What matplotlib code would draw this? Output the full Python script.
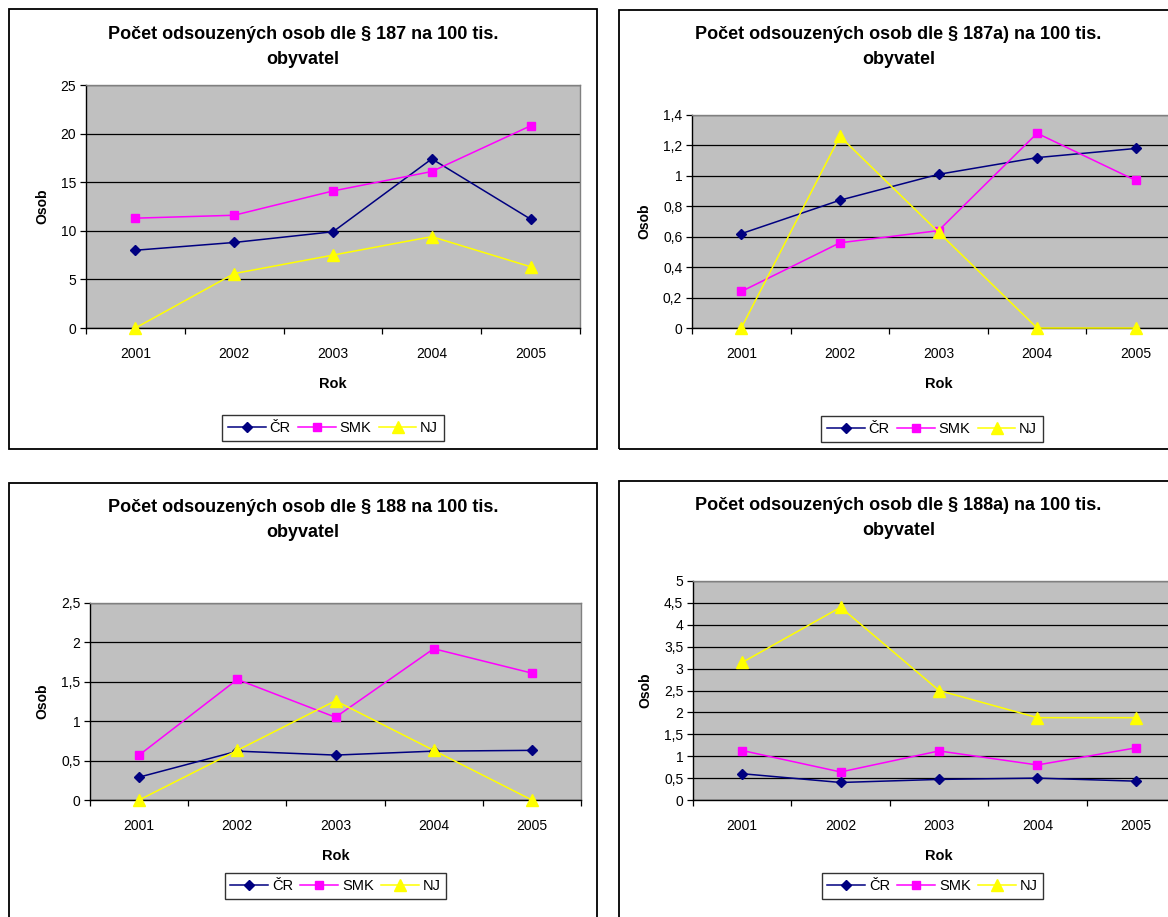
import numpy as np
import matplotlib
matplotlib.use("Agg")
import matplotlib.pyplot as plt
from matplotlib.patches import Rectangle
from matplotlib.ticker import FuncFormatter, FixedLocator

plt.rcParams['font.family'] = ['Liberation Sans', 'DejaVu Sans']

years = ['2001', '2002', '2003', '2004', '2005']
series_names = ['ČR', 'SMK', 'NJ']

# § 187
cr_187 = [8.0, 8.8, 9.9, 17.4, 11.2]
smk_187 = [11.3, 11.6, 14.1, 16.1, 20.8]
nj_187 = [0.0, 5.6, 7.5, 9.4, 6.3]

# § 187a)
cr_187a = [0.62, 0.84, 1.01, 1.12, 1.18]
smk_187a = [0.24, 0.56, 0.64, 1.28, 0.97]
nj_187a = [0.0, 1.26, 0.63, 0.0, 0.0]

# § 188
cr_188 = [0.29, 0.62, 0.57, 0.62, 0.63]
smk_188 = [0.57, 1.53, 1.05, 1.92, 1.61]
nj_188 = [0.0, 0.63, 1.26, 0.63, 0.0]

# § 188a)
cr_188a = [0.60, 0.40, 0.47, 0.50, 0.43]
smk_188a = [1.13, 0.64, 1.12, 0.80, 1.19]
nj_188a = [3.14, 4.40, 2.50, 1.88, 1.88]

titles = ['Počet odsouzených osob dle § 187 na 100 tis.\nobyvatel',
          'Počet odsouzených osob dle § 187a) na 100 tis.\nobyvatel',
          'Počet odsouzených osob dle § 188 na 100 tis.\nobyvatel',
          'Počet odsouzených osob dle § 188a) na 100 tis.\nobyvatel']

W, H = 1168, 917
fig = plt.figure(figsize=(W / 100, H / 100), dpi=100)
fig.patch.set_facecolor('white')


def fx(x):
    return x / W


def fy(y):
    return 1 - y / H


def comma(v, pos):
    s = ('%.1f' % v).rstrip('0').rstrip('.')
    return s.replace('.', ',')


styles = [dict(color='#000080', marker='D', ms=5.5),
          dict(color='#FF00FF', marker='s', ms=6),
          dict(color='#FFFF00', marker='^', ms=8)]

# border box, plot box (x0, x1, y0, y1) in px, title y, legend y, y ticks
panels = [
    dict(box=(9, 597, 9, 449), plot=(86, 580, 85, 328), ty=47, ly=428,
         ticks=np.arange(0, 26, 5), data=[cr_187, smk_187, nj_187]),
    dict(box=(619, 1190, 10, 449), plot=(692, 1185, 115, 328), ty=47, ly=429,
         ticks=np.arange(0, 1.41, 0.2), data=[cr_187a, smk_187a, nj_187a]),
    dict(box=(9, 597, 483, 940), plot=(90, 581, 603, 800), ty=520, ly=886,
         ticks=np.arange(0, 2.51, 0.5), data=[cr_188, smk_188, nj_188]),
    dict(box=(619, 1190, 481, 940), plot=(693, 1185, 581, 800), ty=518, ly=886,
         ticks=np.arange(0, 5.01, 0.5), data=[cr_188a, smk_188a, nj_188a]),
]

x = np.arange(1, len(years) + 1)

for p, title in zip(panels, titles):
    bx0, bx1, by0, by1 = p['box']
    fig.patches.append(Rectangle((fx(bx0), fy(by1)), fx(bx1 - bx0), (by1 - by0) / H,
                                 transform=fig.transFigure, fill=False,
                                 ec='black', lw=1.3))
    px0, px1, py0, py1 = p['plot']
    ax = fig.add_axes([fx(px0), fy(py1), fx(px1 - px0), (py1 - py0) / H])
    ax.set_facecolor('#C0C0C0')
    ax.set_axisbelow(True)
    lines = []
    for vals, name, st in zip(p['data'], series_names, styles):
        ln, = ax.plot(x, vals, lw=1.1, color=st['color'], marker=st['marker'],
                      ms=st['ms'], mfc=st['color'], mec=st['color'], label=name,
                      clip_on=False, zorder=3)
        lines.append(ln)
    ax.set_xlim(0.5, len(years) + 0.5)
    ax.set_ylim(p['ticks'][0], p['ticks'][-1])
    ax.yaxis.set_major_locator(FixedLocator(p['ticks']))
    ax.yaxis.set_major_formatter(FuncFormatter(comma))
    ax.yaxis.grid(True, color='black', lw=0.9)
    ax.xaxis.set_major_locator(FixedLocator(np.arange(0.5, len(years) + 1, 1)))
    ax.xaxis.set_major_formatter(FuncFormatter(lambda v, pos: ''))
    ax.set_xticks(x, years, minor=True)
    ax.tick_params(axis='x', which='minor', length=0, pad=14, labelsize=10)
    ax.tick_params(axis='x', which='major', length=4, width=0.9, direction='out')
    ax.tick_params(axis='y', length=4, width=0.9, direction='out', labelsize=10, pad=3)
    for side in ['top', 'right']:
        ax.spines[side].set_color('#808080')
        ax.spines[side].set_linewidth(1.0)
    for side in ['left', 'bottom']:
        ax.spines[side].set_color('black')
        ax.spines[side].set_linewidth(1.0)
    ax.set_xlabel('Rok', fontsize=10.5, fontweight='bold', labelpad=11)
    ax.set_ylabel('Osob', fontsize=10, fontweight='bold', labelpad=8)
    fig.text(fx((bx0 + min(bx1, 1178)) / 2), fy(p['ty']), title, ha='center', va='center',
             fontsize=13, fontweight='bold', linespacing=1.6)
    lx = (px0 + min(px1, 1172)) / 2 if px1 > W else (px0 + px1) / 2
    leg = fig.legend(handles=lines, loc='center', bbox_to_anchor=(fx(lx), fy(p['ly'])),
                     ncol=3, fontsize=10.5, frameon=True, fancybox=False,
                     edgecolor='black', handlelength=2.6, handletextpad=0.25,
                     columnspacing=0.5, borderpad=0.4, borderaxespad=0)
    leg.get_frame().set_linewidth(1.0)

fig.savefig('out.png', dpi=100)
